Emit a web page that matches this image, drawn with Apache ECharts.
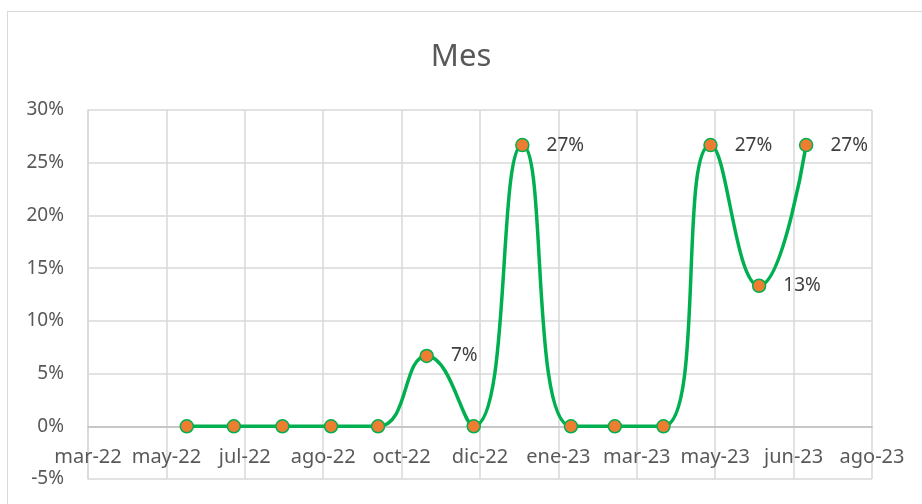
<!DOCTYPE html>
<html>
<head>
<meta charset="utf-8">
<script src="https://cdn.jsdelivr.net/npm/echarts@6/dist/echarts.min.js"></script>
<style>
  html, body { margin: 0; padding: 0; background: #fff; }
  #chart { width: 922px; height: 504px; }
  #frame { position: absolute; left: 7px; top: 11px; width: 940px; height: 520px; border: 1px solid #d9d9d9; pointer-events: none; }
</style>
</head>
<body>
<div id="chart"></div>
<div id="frame"></div>
<script>
// Month-end dates of the series and their values (fraction)
var dates = ['2022-05-31', '2022-06-30', '2022-07-31', '2022-08-31', '2022-09-30', '2022-10-31', '2022-11-30',
             '2022-12-31', '2023-01-31', '2023-02-28', '2023-03-31', '2023-04-30', '2023-05-31', '2023-06-30'];
var values = [0, 0, 0, 0, 0, 0.0667, 0, 0.2667, 0, 0, 0, 0.2667, 0.1333, 0.2667];
// which points carry a data label
var showLabel = [false, false, false, false, false, true, false, true, false, false, false, true, true, true];

// date axis: starts at axisStart, one tick every tickDays
var axisStart = '2022-03-29';
var tickDays = 50;
var tickLabels = ['mar-22', 'may-22', 'jul-22', 'ago-22', 'oct-22', 'dic-22', 'ene-23', 'mar-23', 'may-23', 'jun-23', 'ago-23'];

var yMin = -0.05, yMax = 0.30;

var dayMs = 24 * 3600 * 1000;
function daysFromStart(d) {
  return Math.round((Date.parse(d) - Date.parse(axisStart)) / dayMs);
}

var seriesData = dates.map(function (d, i) {
  return {
    value: [daysFromStart(d), values[i]],
    label: { show: showLabel[i] }
  };
});

var gridTop = 110, gridBottom = 25;
var plotH = 504 - gridTop - gridBottom;
// shift the category labels up so they sit under the 0% line, as in Excel
var zeroOffset = -plotH * (0 - yMin) / (yMax - yMin);

var chart = echarts.init(document.getElementById('chart'));
var font = 'Noto Sans';

chart.setOption({
  animation: false,
  title: {
    text: 'Mes',
    left: 'center',
    top: 37,
    textStyle: { fontFamily: font, fontSize: 31, fontWeight: 'normal', color: '#595959' }
  },
  grid: { left: 88, right: 50, top: gridTop, bottom: gridBottom, outerBoundsMode: 'none' },
  xAxis: [{
    type: 'value',
    min: 0,
    max: tickDays * (tickLabels.length - 1),
    interval: tickDays,
    axisLine: { show: false },
    axisTick: { show: false },
    axisLabel: { show: false },
    splitLine: { show: true, lineStyle: { color: '#d9d9d9', width: 1.5 } }
  }, {
    type: 'value',
    position: 'bottom',
    offset: zeroOffset,
    min: 0,
    max: tickDays * (tickLabels.length - 1),
    interval: tickDays,
    axisLine: { show: true, onZero: false, lineStyle: { color: '#bfbfbf', width: 1.5 } },
    axisTick: { show: false },
    splitLine: { show: false },
    axisLabel: {
      fontFamily: font, fontSize: 20, color: '#595959', margin: 21,
      showMinLabel: true, showMaxLabel: true,
      formatter: function (v) { return tickLabels[Math.round(v / tickDays)] || ''; }
    }
  }],
  yAxis: {
    type: 'value',
    min: yMin,
    max: yMax,
    interval: 0.05,
    axisLine: { show: true, lineStyle: { color: '#d9d9d9', width: 1.5 } },
    axisTick: { show: false },
    splitLine: { lineStyle: { color: '#d9d9d9', width: 1.5 } },
    axisLabel: {
      fontFamily: font, fontSize: 19, color: '#595959', margin: 24,
      formatter: function (v) { return Math.round(v * 100) + '%'; }
    }
  },
  series: [{
    type: 'line',
    xAxisIndex: 0,
    data: seriesData,
    smooth: 0.5,
    symbol: 'circle',
    symbolSize: 13,
    lineStyle: { color: '#00b050', width: 3.5 },
    itemStyle: { color: '#ed7d31', borderColor: '#00b050', borderWidth: 1.5 },
    label: {
      position: 'right',
      distance: 17,
      fontFamily: font,
      fontSize: 19,
      color: '#404040',
      formatter: function (p) { return Math.round(p.value[1] * 100) + '%'; }
    }
  }]
});
</script>
</body>
</html>
